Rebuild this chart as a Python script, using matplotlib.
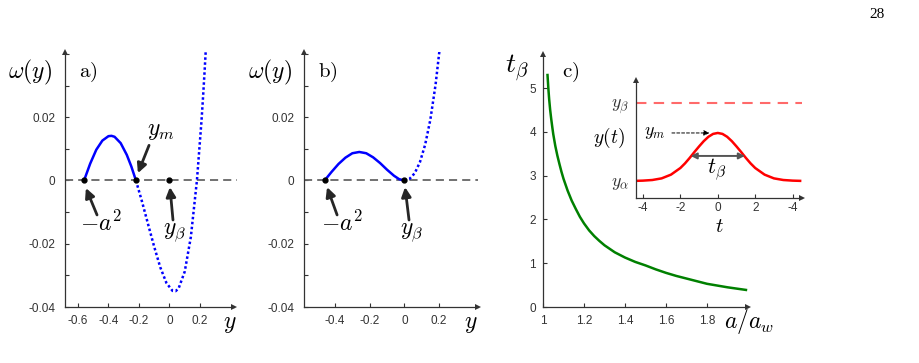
import numpy as np
import matplotlib.pyplot as plt
from matplotlib.ticker import MultipleLocator

plt.rcParams['mathtext.fontset'] = 'cm'
plt.rcParams['font.family'] = ['Liberation Sans', 'DejaVu Sans']

# ----------------------------
# data
# ----------------------------
# panel a) omega(y)
a_y_solid = [-0.56, -0.52, -0.48, -0.44, -0.40, -0.38, -0.36, -0.32, -0.28, -0.25, -0.22]
a_w_solid = [0.0, 0.0053, 0.0097, 0.0126, 0.0140, 0.0141, 0.0138, 0.0118, 0.0081, 0.0044, 0.0]
a_y_dot = [-0.22, -0.18, -0.14, -0.10, -0.06, -0.02, 0.02, 0.04, 0.06, 0.10, 0.14, 0.18,
           0.21, 0.22, 0.23, 0.24]
a_w_dot = [0.0, -0.0067, -0.0139, -0.0210, -0.0275, -0.0324, -0.0349, -0.0350, -0.0341,
           -0.0288, -0.0179, 0.0, 0.0189, 0.0263, 0.0343, 0.0430]
a_points = [-0.56, -0.22, 0.0]

# panel b) omega(y)
b_y_solid = [-0.46, -0.42, -0.38, -0.34, -0.30, -0.26, -0.22, -0.18, -0.14, -0.10, -0.06, -0.03, 0.0]
b_w_solid = [0.0, 0.0027, 0.0052, 0.0072, 0.0086, 0.0090, 0.0086, 0.0073, 0.0055, 0.0034,
             0.0015, 0.0004, 0.0]
b_y_dot = [0.0, 0.03, 0.06, 0.09, 0.12, 0.15, 0.18, 0.21]
b_w_dot = [0.0, 0.0005, 0.0023, 0.0058, 0.0113, 0.0192, 0.0302, 0.0446]
b_points = [-0.46, 0.0]

# panel c) t_beta vs a/a_w
c_a = [1.022, 1.026, 1.03, 1.035, 1.04, 1.045, 1.05, 1.06, 1.07, 1.08, 1.09, 1.10, 1.12,
       1.14, 1.16, 1.18, 1.20, 1.225, 1.25, 1.275, 1.30, 1.35, 1.40, 1.45, 1.50, 1.55,
       1.60, 1.65, 1.70, 1.80, 1.90, 1.99]
c_t = [5.30, 5.00, 4.75, 4.50, 4.30, 4.12, 3.95, 3.68, 3.46, 3.27, 3.09, 2.93, 2.66,
       2.43, 2.24, 2.06, 1.91, 1.75, 1.62, 1.51, 1.41, 1.25, 1.13, 1.03, 0.95, 0.86,
       0.78, 0.71, 0.65, 0.53, 0.45, 0.39]

# inset y(t)  (y_alpha = 0, y_beta = 1)
in_t = [-4.4, -4.0, -3.5, -3.0, -2.5, -2.0, -1.75, -1.5, -1.25, -1.0, -0.75, -0.5, -0.25, 0.0,
        0.25, 0.5, 0.75, 1.0, 1.25, 1.5, 1.75, 2.0, 2.5, 3.0, 3.5, 4.0, 4.4]
in_y = [0.0, 0.003, 0.011, 0.032, 0.080, 0.165, 0.225, 0.295, 0.370, 0.442, 0.510, 0.566,
        0.603, 0.615, 0.603, 0.566, 0.510, 0.442, 0.370, 0.295, 0.225, 0.165, 0.080, 0.032,
        0.011, 0.003, 0.0]
in_ticks = [-4, -2, 0, 2, 4]
in_ticklabels = ['-4', '-2', '0', '2', '-4']

W, H = 919, 363
AX_COL = '#333333'


def px(x, y):
    return x / W, 1 - y / H


def style_axes(ax, xpad=6, ypad=7):
    for s in ['top', 'right']:
        ax.spines[s].set_visible(False)
    for s in ['left', 'bottom']:
        ax.spines[s].set_color(AX_COL)
        ax.spines[s].set_linewidth(0.9)
    ax.tick_params(direction='in', length=3, width=0.8, colors=AX_COL, labelsize=8.5,
                   which='both')
    ax.tick_params(axis='x', pad=xpad)
    ax.tick_params(axis='y', pad=ypad)
    ax.plot(1, 0, '>', transform=ax.transAxes, clip_on=False, color=AX_COL, ms=5,
            markeredgewidth=0)
    ax.plot(0, 1, '^', transform=ax.transAxes, clip_on=False, color=AX_COL, ms=5,
            markeredgewidth=0)


def arrow(ax, tail, head):
    ax.annotate('', xy=head, xytext=tail,
                arrowprops=dict(arrowstyle='-|>', color='#262626', lw=2,
                                mutation_scale=14, shrinkA=0, shrinkB=0))


fig = plt.figure(figsize=(W / 100, H / 100), dpi=100)

# ----------------------------
# panel a
# ----------------------------
axa = fig.add_axes([65 / W, 1 - 307 / H, (234 - 65) / W, (307 - 52) / H])
style_axes(axa)
axa.set_xlim(-0.685, 0.423)
axa.set_ylim(-0.04, 0.0406)
axa.set_xticks([-0.6, -0.4, -0.2, 0, 0.2])
axa.set_xticklabels(['-0.6', '-0.4', '-0.2', '0', '0.2'])
axa.yaxis.set_minor_locator(MultipleLocator(0.01))
axa.set_yticks([-0.04, -0.02, 0, 0.02])
axa.set_yticklabels(['-0.04', '-0.02', '0', '0.02'])
axa.plot([-0.685, 0.445], [0, 0], color='#666666', lw=1.3, dashes=(4.5, 2.8), clip_on=False)
axa.plot(a_y_solid, a_w_solid, color='#0000ff', lw=1.8)
axa.plot(a_y_dot, a_w_dot, color='#0000ff', lw=1.8, linestyle=(0, (1.0, 1.0)))
axa.plot(a_points, [0] * len(a_points), 'o', color='black', ms=3.5)
arrow(axa, (-0.475, -0.0109), (-0.548, -0.0024))
arrow(axa, (-0.134, 0.0111), (-0.207, 0.0023))
arrow(axa, (0.023, -0.0125), (0.003, -0.0021))
axa.text(-0.449, -0.0135, r'$-a^2$', fontsize=17, ha='center', va='center')
axa.text(-0.056, 0.0156, r'$y_m$', fontsize=17, ha='center', va='center')
axa.text(0.036, -0.0167, r'$y_\beta$', fontsize=17, ha='center', va='center')

# ----------------------------
# panel b
# ----------------------------
axb = fig.add_axes([304 / W, 1 - 307 / H, (478 - 304) / W, (307 - 52) / H])
style_axes(axb)
axb.set_xlim(-0.579, 0.425)
axb.set_ylim(-0.04, 0.0406)
axb.set_xticks([-0.4, -0.2, 0, 0.2])
axb.set_xticklabels(['-0.4', '-0.2', '0', '0.2'])
axb.yaxis.set_minor_locator(MultipleLocator(0.01))
axb.set_yticks([-0.04, -0.02, 0, 0.02])
axb.set_yticklabels(['-0.04', '-0.02', '0', '0.02'])
axb.plot([-0.579, 0.425], [0, 0], color='#666666', lw=1.3, dashes=(4.5, 2.8), clip_on=False)
axb.plot(b_y_solid, b_w_solid, color='#0000ff', lw=1.8)
axb.plot(b_y_dot, b_w_dot, color='#0000ff', lw=1.8, linestyle=(0, (1.0, 1.0)))
axb.plot(b_points, [0] * len(b_points), 'o', color='black', ms=3.5)
arrow(axb, (-0.388, -0.0109), (-0.446, -0.0021))
arrow(axb, (0.027, -0.0125), (0.004, -0.0021))
axb.text(-0.36, -0.0135, r'$-a^2$', fontsize=17, ha='center', va='center')
axb.text(0.039, -0.0167, r'$y_\beta$', fontsize=17, ha='center', va='center')

# ----------------------------
# panel c
# ----------------------------
axc = fig.add_axes([543 / W, 1 - 307 / H, (748 - 543) / W, (307 - 54) / H])
style_axes(axc, xpad=6, ypad=5)
axc.set_xlim(1.0, 2.0)
axc.set_ylim(0, 5.78)
axc.set_xticks([1, 1.2, 1.4, 1.6, 1.8])
axc.set_xticklabels(['1', '1.2', '1.4', '1.6', '1.8'])
axc.set_yticks([0, 1, 2, 3, 4, 5])
axc.plot(c_a, c_t, color='#008000', lw=1.8)

# inset
axi = fig.add_axes([636 / W, 1 - 198 / H, (802 - 636) / W, (198 - 80) / H])
style_axes(axi, xpad=3, ypad=4)
axi.set_xlim(-4.37, 4.5)
axi.set_ylim(-0.22, 1.295)
axi.set_xticks(in_ticks)
axi.set_xticklabels(in_ticklabels)
axi.set_yticks([0, 1])
axi.set_yticklabels([r'$y_\alpha$', r'$y_\beta$'], fontsize=13)
axi.tick_params(axis='y', length=0, pad=5)
axi.plot([-4.37, 4.5], [1, 1], color='#ff5050', alpha=0.85, lw=1.5, dashes=(5, 3.5),
         clip_on=False)
axi.plot(in_t, in_y, color='#ff0000', lw=1.8)
axi.annotate('', xy=(-0.45, 0.615), xytext=(-2.45, 0.615),
             arrowprops=dict(arrowstyle='-|>', color='black', lw=0.7, linestyle=(0, (3, 2)),
                             mutation_scale=8, shrinkA=0, shrinkB=0))
axi.annotate('', xy=(1.45, 0.32), xytext=(-1.45, 0.32),
             arrowprops=dict(arrowstyle='<|-|>', color='#555555', lw=1.4,
                             mutation_scale=9, shrinkA=0, shrinkB=0))
axi.text(-3.35, 0.615, r'$y_m$', fontsize=13, ha='center', va='center')
axi.text(-0.05, 0.15, r'$t_\beta$', fontsize=16, ha='center', va='center')

# ----------------------------
# labels outside axes
# ----------------------------
fig.text(*px(30, 72), r'$\omega(y)$', fontsize=17, ha='center', va='center')
fig.text(*px(88, 72), r'$\mathrm{a)}$', fontsize=15, ha='center', va='center')
fig.text(*px(270, 72), r'$\omega(y)$', fontsize=17, ha='center', va='center')
fig.text(*px(328, 72), r'$\mathrm{b)}$', fontsize=15, ha='center', va='center')
fig.text(*px(517, 68), r'$t_\beta$', fontsize=20, ha='center', va='center')
fig.text(*px(571, 72), r'$\mathrm{c)}$', fontsize=15, ha='center', va='center')
fig.text(*px(230, 324), r'$y$', fontsize=17, ha='center', va='center')
fig.text(*px(471, 324), r'$y$', fontsize=17, ha='center', va='center')
fig.text(*px(749, 322), r'$a/a_w$', fontsize=17, ha='center', va='center')
fig.text(*px(609, 138), r'$y(t)$', fontsize=14, ha='center', va='center')
fig.text(*px(719, 227), r'$t$', fontsize=15, ha='center', va='center')
fig.text(*px(877, 14), '28', fontsize=11, family='Liberation Serif', ha='center',
         va='center')

fig.savefig('out.png', dpi=100)
